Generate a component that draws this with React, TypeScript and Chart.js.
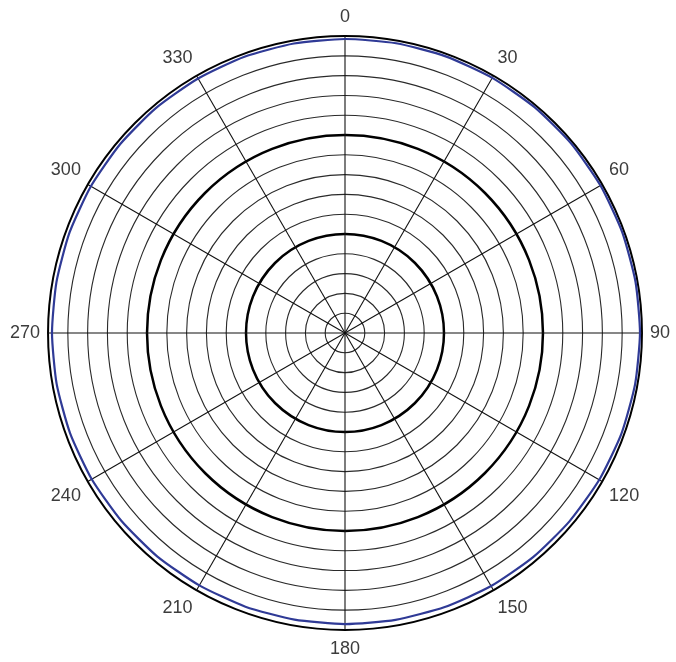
import React, { useEffect, useRef } from "react";
import { Chart, registerables } from "chart.js";

Chart.register(...registerables);

// angles every 10 degrees; labels shown every 30 degrees
const angles: number[] = [
  0, 10, 20, 30, 40, 50, 60, 70, 80, 90, 100, 110,
  120, 130, 140, 150, 160, 170, 180, 190, 200, 210, 220, 230,
  240, 250, 260, 270, 280, 290, 300, 310, 320, 330, 340, 350,
];
const shownLabels: string[] = ["0", "30", "60", "90", "120", "150", "180", "210", "240", "270", "300", "330"];
// measured response (rings: 0..15)
const response: number[] = [
  14.85, 14.86, 14.87, 14.88, 14.89, 14.9, 14.9, 14.9, 14.9, 14.9, 14.88, 14.86,
  14.83, 14.8, 14.78, 14.76, 14.73, 14.71, 14.7, 14.7, 14.71, 14.72, 14.74, 14.75,
  14.77, 14.78, 14.79, 14.8, 14.8, 14.81, 14.82, 14.83, 14.84, 14.84, 14.85, 14.85,
];
const scaleMax = 15;
const majorEvery = 5;

export default function App() {
  const ref = useRef<HTMLCanvasElement>(null);
  useEffect(() => {
    if (!ref.current) return;
    const chart = new Chart(ref.current, {
      type: "radar",
      data: {
        labels: angles.map((a) => String(a)),
        datasets: [
          {
            data: response,
            borderColor: "#2f3a96",
            borderWidth: 2.2,
            pointRadius: 0,
            fill: false,
            tension: 0.2,
          },
        ],
      },
      options: {
        responsive: false,
        animation: false,
        layout: { padding: { left: 5, right: -11, top: 5, bottom: -13 } },
        plugins: { legend: { display: false }, tooltip: { enabled: false } },
        scales: {
          r: {
            min: 0,
            max: scaleMax,
            startAngle: 0,
            ticks: { stepSize: 1, display: false },
            grid: {
              circular: true,
              color: (ctx: any) => (ctx.index % majorEvery === 0 ? "#000000" : "#2a2a2a"),
              lineWidth: (ctx: any) =>
                ctx.index === scaleMax ? 2 : ctx.index % majorEvery === 0 ? 2.5 : 1.1,
            },
            angleLines: {
              display: true,
              color: (ctx: any) => (ctx.index % 3 === 0 ? "#111111" : "rgba(0,0,0,0)"),
              lineWidth: 1.1,
            },
            pointLabels: {
              display: true,
              padding: 8,
              color: "#3c3c3c",
              font: { family: "'Liberation Sans', Arial, sans-serif", size: 18 },
              callback: (label: string, index: number) =>
                index % 3 === 0 ? shownLabels[index / 3] : "",
            },
          },
        },
      },
    });
    return () => chart.destroy();
  }, []);
  return (
    <div style={{ position: "absolute", left: 0, top: 0, width: 676, height: 662, background: "#fff" }}>
      <canvas ref={ref} width={676} height={662} />
    </div>
  );
}
